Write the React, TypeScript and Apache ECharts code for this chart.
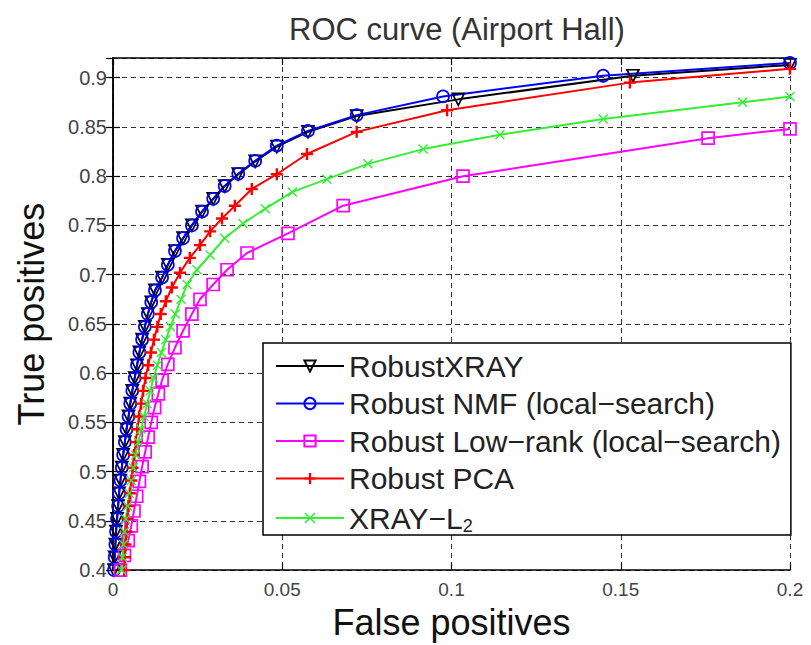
import React, { useEffect, useRef } from "react";
import * as echarts from "echarts";

const seriesNames = [
  "RobustXRAY",
  "Robust NMF (local−search)",
  "Robust Low−rank (local−search)",
  "Robust PCA",
  "XRAY−L2",
];

const xrayX = [0.0003, 0.0005, 0.0007, 0.0009, 0.0012, 0.0015, 0.0018, 0.0022, 0.0026, 0.003, 0.0035, 0.004, 0.0046, 0.0051, 0.0057, 0.0064, 0.0071, 0.0078, 0.0086, 0.0094, 0.0103, 0.0113, 0.0124, 0.0145, 0.0162, 0.0183, 0.0207, 0.0233, 0.0263, 0.0296, 0.033, 0.037, 0.042, 0.0484, 0.0576, 0.072, 0.102, 0.1536, 0.2];
const xrayY = [0.4, 0.413, 0.426, 0.439, 0.452, 0.465, 0.478, 0.491, 0.504, 0.517, 0.53, 0.543, 0.556, 0.569, 0.582, 0.595, 0.608, 0.621, 0.634, 0.647, 0.66, 0.672, 0.684, 0.697, 0.71, 0.724, 0.737, 0.75, 0.764, 0.777, 0.79, 0.802, 0.815, 0.83, 0.845, 0.861, 0.878, 0.902, 0.913];

const nmfX = [0.0003, 0.0005, 0.0007, 0.0009, 0.0012, 0.0015, 0.0018, 0.0022, 0.0026, 0.003, 0.0035, 0.004, 0.0046, 0.0051, 0.0057, 0.0064, 0.0071, 0.0078, 0.0086, 0.0094, 0.0103, 0.0113, 0.0124, 0.0145, 0.0162, 0.0183, 0.0207, 0.0233, 0.0263, 0.0296, 0.033, 0.037, 0.042, 0.0484, 0.0576, 0.072, 0.0975, 0.1448, 0.2];
const nmfY = [0.4, 0.413, 0.426, 0.439, 0.452, 0.465, 0.478, 0.491, 0.504, 0.517, 0.53, 0.543, 0.556, 0.569, 0.582, 0.595, 0.608, 0.621, 0.634, 0.647, 0.66, 0.672, 0.684, 0.697, 0.71, 0.724, 0.737, 0.75, 0.764, 0.777, 0.79, 0.8024, 0.8155, 0.831, 0.846, 0.862, 0.881, 0.902, 0.915];

const lowRankX = [0.0022, 0.0034, 0.0045, 0.0054, 0.0062, 0.007, 0.0078, 0.0086, 0.0095, 0.0104, 0.0113, 0.0123, 0.0134, 0.0145, 0.0162, 0.0183, 0.0207, 0.0233, 0.0257, 0.0296, 0.0337, 0.0396, 0.0517, 0.068, 0.1034, 0.1758, 0.2];
const lowRankY = [0.4, 0.415, 0.43, 0.445, 0.46, 0.475, 0.49, 0.505, 0.52, 0.535, 0.55, 0.565, 0.579, 0.593, 0.609, 0.626, 0.643, 0.66, 0.675, 0.69, 0.705, 0.722, 0.742, 0.77, 0.8, 0.8386, 0.848];

const pcaX = [0.0033, 0.0035, 0.0037, 0.004, 0.0043, 0.0046, 0.005, 0.0054, 0.0058, 0.0062, 0.0067, 0.0072, 0.0077, 0.0083, 0.0089, 0.0096, 0.0104, 0.0112, 0.0121, 0.0131, 0.0141, 0.0156, 0.0174, 0.0198, 0.0227, 0.0257, 0.0287, 0.0322, 0.036, 0.041, 0.0484, 0.0573, 0.072, 0.0987, 0.1527, 0.2];
const pcaY = [0.4, 0.413, 0.426, 0.439, 0.452, 0.465, 0.478, 0.491, 0.504, 0.517, 0.53, 0.543, 0.556, 0.569, 0.582, 0.595, 0.608, 0.621, 0.634, 0.647, 0.66, 0.673, 0.687, 0.702, 0.717, 0.73, 0.744, 0.757, 0.77, 0.787, 0.802, 0.8225, 0.845, 0.867, 0.895, 0.909];

const xrayL2X = [0.0025, 0.0028, 0.0031, 0.0034, 0.0038, 0.0043, 0.0048, 0.0054, 0.006, 0.0067, 0.0075, 0.0083, 0.0092, 0.0101, 0.011, 0.012, 0.0131, 0.0143, 0.0156, 0.017, 0.0184, 0.0201, 0.0219, 0.0248, 0.0287, 0.033, 0.0384, 0.045, 0.053, 0.0632, 0.0753, 0.0916, 0.1143, 0.1448, 0.186, 0.2];
const xrayL2Y = [0.4, 0.413, 0.426, 0.439, 0.452, 0.465, 0.478, 0.491, 0.504, 0.517, 0.53, 0.543, 0.556, 0.569, 0.582, 0.595, 0.608, 0.621, 0.634, 0.647, 0.66, 0.675, 0.69, 0.705, 0.72, 0.737, 0.752, 0.767, 0.784, 0.797, 0.8125, 0.8275, 0.842, 0.858, 0.875, 0.881];

const xTicks = { min: 0, max: 0.2, interval: 0.05 };
const yTicks = { min: 0.4, max: 0.92, interval: 0.05 };

const zip = (xs: number[], ys: number[]) => xs.map((x, i) => [x, ys[i]]);

const PLUS = "path://M4,0H6V4H10V6H6V10H4V6H0V4H4Z";
const CROSS = "path://M1,0L5,4L9,0L10,1L6,5L10,9L9,10L5,6L1,10L0,9L4,5L0,1Z";

export default function App() {
  const ref = useRef<HTMLDivElement>(null);
  useEffect(() => {
    if (!ref.current) return;
    const chart = echarts.init(ref.current, undefined, { renderer: "svg" });
    const font = "Liberation Sans, Arial, sans-serif";
    const gridLine = { show: true, lineStyle: { color: "#333", type: [5, 4], width: 1 } };
    const mkSeries = (
      name: string,
      xs: number[],
      ys: number[],
      color: string,
      symbol: string,
      size: number,
      hollow: boolean,
      rotate = 0
    ) => ({
      name,
      type: "line",
      data: zip(xs, ys),
      symbol,
      symbolSize: size,
      symbolRotate: rotate,
      showAllSymbol: true,
      lineStyle: { color, width: 2 },
      itemStyle: hollow
        ? { color: "rgba(255,255,255,0)", borderColor: color, borderWidth: 1.7 }
        : { color, borderWidth: 0 },
      emphasis: { disabled: true },
    });
    chart.setOption({
      animation: false,
      backgroundColor: "#fff",
      title: {
        text: "ROC curve (Airport Hall)",
        left: 452,
        top: 9,
        textAlign: "center",
        textStyle: { fontFamily: font, fontSize: 31, fontWeight: "normal", color: "#333" },
      },
      grid: { left: 113, right: 21, top: 58, bottom: 70 },
      legend: {
        orient: "vertical",
        left: 263,
        top: 343,
        padding: [8, 10, 0, 12],
        itemGap: 7.5,
        itemWidth: 68,
        itemHeight: 14,
        backgroundColor: "#fff",
        borderColor: "#000",
        borderWidth: 1.5,
        data: seriesNames,
        textStyle: {
          fontFamily: font,
          fontSize: 30,
          color: "#222",
          rich: {
            a: { fontFamily: font, fontSize: 30, color: "#222", lineHeight: 30 },
            s: { fontFamily: font, fontSize: 18, color: "#222", lineHeight: 18, padding: [16, 0, 0, 0] },
          },
        },
        formatter: (name: string) =>
          name === "XRAY−L2" ? "{a|XRAY−L}{s|2}" : name,
      },
      xAxis: [
        {
          type: "value",
          ...xTicks,
          position: "bottom",
          name: "False positives",
          nameLocation: "middle",
          nameGap: 16,
          nameTextStyle: { fontFamily: font, fontSize: 36, color: "#111", verticalAlign: "top" },
          axisLine: { show: true, lineStyle: { color: "#000", width: 1.5 } },
          axisTick: { show: true, inside: true, length: 7, lineStyle: { color: "#000", width: 1.2 } },
          axisLabel: { fontFamily: font, fontSize: 19, color: "#444", margin: 10 },
          splitLine: gridLine,
        },
        {
          type: "value",
          ...xTicks,
          position: "top",
          axisLine: { show: true, lineStyle: { color: "#000", width: 1.5 } },
          axisTick: { show: true, inside: true, length: 7, lineStyle: { color: "#000", width: 1.2 } },
          axisLabel: { show: false },
          splitLine: { show: false },
        },
      ],
      yAxis: [
        {
          type: "value",
          ...yTicks,
          position: "left",
          name: "True positives",
          nameLocation: "middle",
          nameGap: 64,
          nameTextStyle: { fontFamily: font, fontSize: 36, color: "#111" },
          axisLine: { show: true, lineStyle: { color: "#000", width: 1.5 } },
          axisTick: { show: true, inside: true, length: 7, lineStyle: { color: "#000", width: 1.2 } },
          axisLabel: { fontFamily: font, fontSize: 20, color: "#444", margin: 6, showMaxLabel: false },
          splitLine: gridLine,
        },
        {
          type: "value",
          ...yTicks,
          position: "right",
          axisLine: { show: true, lineStyle: { color: "#000", width: 1.5 } },
          axisTick: { show: true, inside: true, length: 7, lineStyle: { color: "#000", width: 1.2 } },
          axisLabel: { show: false },
          splitLine: { show: false },
        },
      ],
      series: [
        mkSeries(seriesNames[0], xrayX, xrayY, "#000000", "triangle", 12, true, 180),
        mkSeries(seriesNames[1], nmfX, nmfY, "#0000ff", "circle", 12, true),
        mkSeries(seriesNames[2], lowRankX, lowRankY, "#ff00ff", "rect", 12, true),
        mkSeries(seriesNames[3], pcaX, pcaY, "#ff0000", PLUS, 12, false),
        mkSeries(seriesNames[4], xrayL2X, xrayL2Y, "#33ee33", CROSS, 10, false),
      ],
    });
    return () => chart.dispose();
  }, []);
  return (
    <div
      ref={ref}
      style={{ position: "fixed", left: 0, top: 0, width: 811, height: 645, background: "#fff" }}
    />
  );
}
